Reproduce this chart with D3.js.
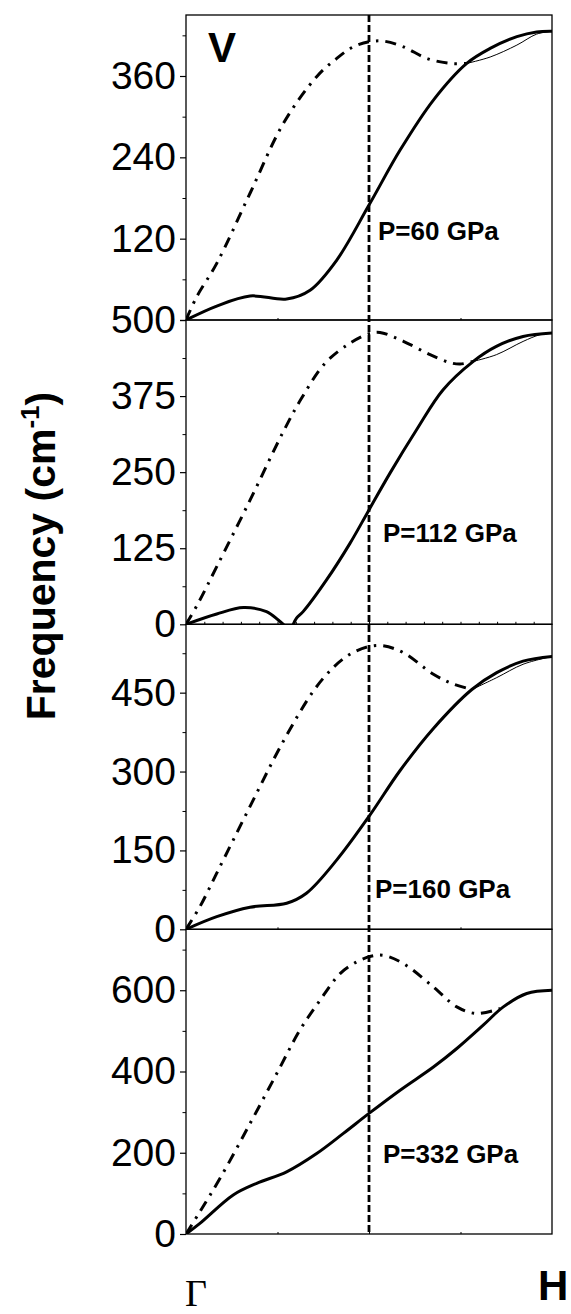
<!DOCTYPE html>
<html>
<head>
<meta charset="utf-8">
<script src="https://cdn.jsdelivr.net/npm/d3@7"></script>
<style>
  html, body { margin: 0; padding: 0; background: #fff; }
  svg { display: block; }
  text { font-family: "Liberation Sans", Arial, sans-serif; fill: #000; }
</style>
</head>
<body>
<svg id="chart" width="571" height="1314"></svg>
<script>
// ---------------- DATA ----------------
// x: fraction of the path from Gamma (0) to H (1); y: frequency in cm^-1
const pressures = ["P=60 GPa", "P=112 GPa", "P=160 GPa", "P=332 GPa"];
const yMax = [450, 500, 580, 750];
const majorTicks = [[0, 120, 240, 360], [0, 125, 250, 375, 500], [0, 150, 300, 450], [0, 200, 400, 600]];
const minorTicks = [[60, 180, 300, 420], [62.5, 187.5, 312.5, 437.5], [75, 225, 375, 525], [100, 300, 500, 700]];
const pathLabels = ["\u0393", "H"];
const element = "V";

// P = 60 GPa
const p60Solid = [[0,0],[0.084,20.6],[0.175,35.4],[0.275,31],[0.339,44],[0.412,88.5],[0.5,169.6],[0.585,250.7],[0.676,324.5],[0.767,378.6],[0.831,400.7],[0.904,418],[0.958,425],[1,426]];
const p60DashDot = [[0,0],[0.029,34],[0.084,83.6],[0.175,187],[0.266,290],[0.357,359],[0.412,386],[0.457,403],[0.5,410.5],[0.539,411.5],[0.594,403],[0.658,386],[0.721,378.6],[0.767,378.6]];
const p60Thin = [[0.767,378.6],[0.831,388],[0.904,405.6],[0.958,421.8],[1,426]];

// P = 112 GPa
const p112SolidA = [[0,0],[0.084,17],[0.157,27.4],[0.220,20.7],[0.252,7],[0.266,0]];
const p112SolidB = [[0.293,0],[0.302,10],[0.320,20.8],[0.384,72.9],[0.448,133],[0.5,188],[0.557,248],[0.630,319.6],[0.702,385],[0.785,432],[0.848,456.6],[0.921,473],[1,478.6]];
const p112DashDot = [[0,0],[0.034,35.5],[0.084,94.7],[0.175,204],[0.266,316.8],[0.316,371.7],[0.380,429],[0.448,462],[0.5,477.5],[0.530,479.6],[0.594,465],[0.667,443],[0.721,430],[0.749,427.6],[0.785,432]];
const p112Thin = [[0.785,432],[0.848,443],[0.921,464.8],[0.967,475.8],[1,478.6]];

// P = 160 GPa
const p160Solid = [[0,0],[0.084,24],[0.175,42],[0.275,49.6],[0.329,68.6],[0.412,132],[0.5,214.7],[0.585,302],[0.676,382],[0.781,456],[0.849,488],[0.921,510],[1,519]];
const p160DashDot = [[0,0],[0.038,43],[0.084,106.8],[0.175,233.8],[0.266,357.7],[0.348,453],[0.402,497.7],[0.448,523],[0.5,537.7],[0.539,539],[0.594,526],[0.676,485],[0.728,467],[0.781,456]];
const p160Thin = [[0.781,456],[0.849,478.6],[0.921,504],[1,519]];

// P = 332 GPa
const p332Solid = [[0,0],[0.038,26],[0.129,96],[0.193,124.6],[0.275,153],[0.357,198],[0.430,247.6],[0.5,296.8],[0.585,354],[0.676,411],[0.740,456.6],[0.812,514],[0.867,559],[0.931,592],[1,600]];
const p332DashDot = [[0,0],[0.038,55],[0.093,137],[0.175,272],[0.248,395],[0.311,501.6],[0.366,575],[0.421,641],[0.466,669.6],[0.505,683.5],[0.539,686],[0.594,665.6],[0.676,608],[0.740,559],[0.794,542.6],[0.858,555]];

const solids = [[p60Solid], [p112SolidA, p112SolidB], [p160Solid], [p332Solid]];
const dashDots = [p60DashDot, p112DashDot, p160DashDot, p332DashDot];
const thins = [[p60Thin], [p112Thin], [p160Thin], []];

// ---------------- LAYOUT ----------------
const plotLeft = 186, plotRight = 552;
const panelBounds = [[15, 320], [320, 624.3], [624.3, 929.3], [929.3, 1234]];
const labelPos = [[378, 240], [383, 542], [375, 898], [383, 1163]];

const svg = d3.select("#chart");
svg.append("rect").attr("width", 571).attr("height", 1314).attr("fill", "#fff");

const x = d3.scaleLinear().domain([0, 1]).range([plotLeft, plotRight]);

panelBounds.forEach((b, i) => {
  const y = d3.scaleLinear().domain([0, yMax[i]]).range([b[1], b[0]]);
  const g = svg.append("g");
  const line = d3.line().x(d => x(d[0])).y(d => y(d[1])).curve(d3.curveCatmullRom.alpha(0.5));

  const clipId = "clip" + i;
  svg.append("clipPath").attr("id", clipId).append("rect")
    .attr("x", plotLeft).attr("y", b[0] - 2).attr("width", plotRight - plotLeft).attr("height", b[1] - b[0] + 2);
  const cg = g.append("g").attr("clip-path", `url(#${clipId})`);

  thins[i].forEach(seg => {
    cg.append("path").attr("d", line(seg)).attr("fill", "none").attr("stroke", "#000").attr("stroke-width", 1);
  });
  cg.append("path").attr("d", line(dashDots[i])).attr("fill", "none").attr("stroke", "#000")
    .attr("stroke-width", 3).attr("stroke-dasharray", "11,7,2.5,7");
  solids[i].forEach(seg => {
    cg.append("path").attr("d", line(seg)).attr("fill", "none").attr("stroke", "#000")
      .attr("stroke-width", 3).attr("stroke-linecap", "round");
  });

  // y axis major ticks (the 0 of the top panel is hidden under the 500 of the next one)
  const axis = d3.axisLeft(y).tickValues(majorTicks[i]).tickSize(6).tickSizeOuter(0)
    .tickFormat(d => (i === 0 && d === 0) ? "" : d3.format("d")(d));
  const ag = g.append("g").attr("transform", `translate(${plotLeft},0)`).call(axis);
  ag.select(".domain").remove();
  ag.selectAll(".tick line").attr("stroke", "#000").attr("stroke-width", 1.2);
  ag.selectAll(".tick text").attr("x", -10).attr("dy", null).attr("y", 12.5)
    .style("font-family", "'Liberation Sans', Arial, sans-serif").style("font-size", "39px").attr("fill", "#000");
  const mAxis = d3.axisLeft(y).tickValues(minorTicks[i]).tickSize(3.5).tickSizeOuter(0).tickFormat("");
  const mg = g.append("g").attr("transform", `translate(${plotLeft},0)`).call(mAxis);
  mg.select(".domain").remove();
  mg.selectAll(".tick line").attr("stroke", "#000").attr("stroke-width", 1);

  const xt = i === 1 ? d3.range(1, 20).map(k => k / 20) : [0.25, 0.5, 0.75];
  const xAxis = d3.axisTop(x).tickValues(xt).tickSize(i === 1 ? 2.5 : 2).tickSizeOuter(0).tickFormat("");
  const xg = g.append("g").attr("transform", `translate(0,${b[1]})`).call(xAxis);
  xg.select(".domain").remove();
  xg.selectAll(".tick line").attr("stroke", "#000").attr("stroke-width", 1);

  g.append("rect").attr("x", plotLeft).attr("y", b[0]).attr("width", plotRight - plotLeft).attr("height", b[1] - b[0])
    .attr("fill", "none").attr("stroke", "#000").attr("stroke-width", 1.3);

  g.append("text").attr("x", labelPos[i][0]).attr("y", labelPos[i][1])
    .style("font-size", "26px").style("font-weight", "bold").text(pressures[i]);
});

svg.append("line").attr("x1", x(0.5)).attr("x2", x(0.5)).attr("y1", 15).attr("y2", 1234)
  .attr("stroke", "#000").attr("stroke-width", 2.8).attr("stroke-dasharray", "7,3");

svg.append("text").attr("x", 208).attr("y", 62).style("font-size", "42px").style("font-weight", "bold").text(element);

svg.append("text").attr("x", 185).attr("y", 1306)
  .style("font-family", "'Liberation Serif', 'Times New Roman', serif").style("font-size", "38px").text(pathLabels[0]);
svg.append("text").attr("x", 538).attr("y", 1300).style("font-size", "42px").style("font-weight", "bold").text(pathLabels[1]);

const title = svg.append("text").attr("transform", "translate(55,556) rotate(-90)")
  .attr("text-anchor", "middle").style("font-size", "41px").style("font-weight", "bold");
title.append("tspan").text("Frequency (cm");
title.append("tspan").attr("dy", -16).style("font-size", "26px").text("-1");
title.append("tspan").attr("dy", 16).text(")");
</script>
</body>
</html>
